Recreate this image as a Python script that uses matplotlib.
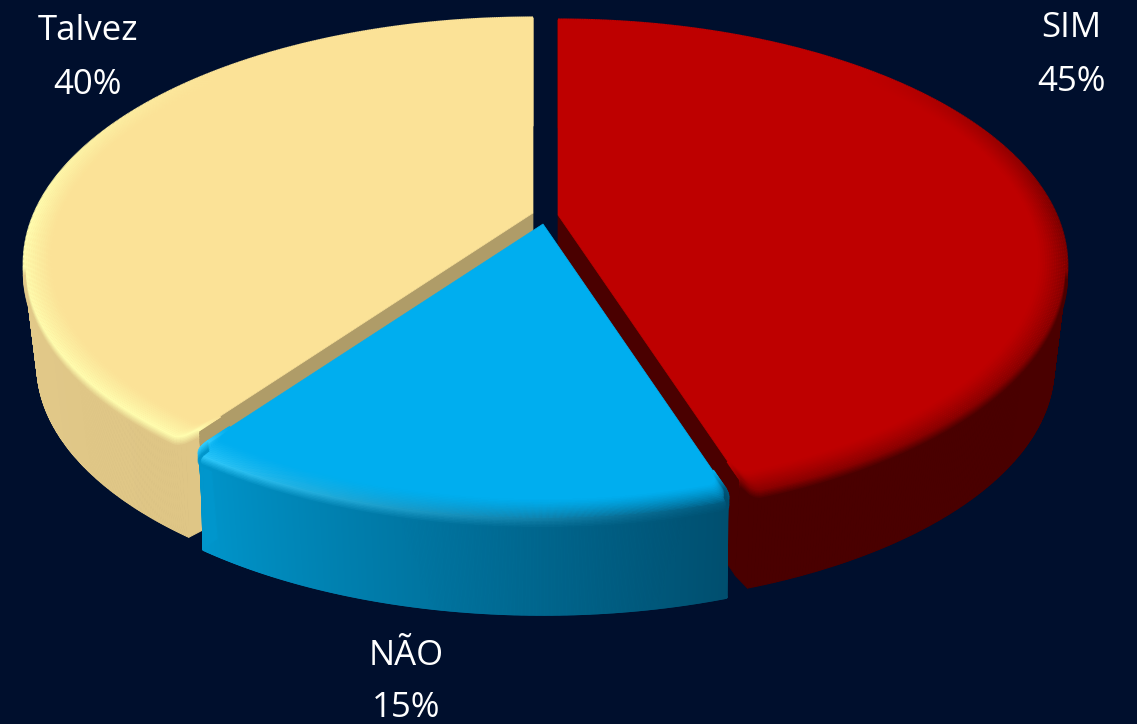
import numpy as np
import matplotlib
matplotlib.use("Agg")
import matplotlib.pyplot as plt
from matplotlib.collections import LineCollection, PolyCollection
from matplotlib.colors import to_rgb
from matplotlib.patches import Polygon

categories = ["SIM", "NÃO", "Talvez"]
values = [45, 15, 40]

top_colors = {"SIM": "#BE0000", "NÃO": "#00AEEF", "Talvez": "#FBE297"}
# wall colour at the start and end of each slice (clockwise)
wall_colors = {
    "SIM": ("#4A0000", "#4A0000"),
    "NÃO": ("#004E6E", "#0096CC"),
    "Talvez": ("#DFC686", "#E8CF90"),
}
rim_colors = {
    "SIM": ("#6A0000", "#8C0000"),
    "NÃO": ("#00587C", "#30CCFF"),
    "Talvez": ("#FFFDAE", "#FFFDAE"),
}
cut_colors = {"SIM": "#4A0000", "Talvez": "#AF9C68"}
apexes = {"SIM": (558, 215), "NÃO": (543, 224), "Talvez": (533, 213)}

RX, RY, PERSP = 498, 235, 0.205
DEPTH, SHRINK = 103, 0.975
BG = "#000F2D"


def project(apex, theta, r=1.0):
    d = r * np.cos(theta)
    s = 1 / (1 + PERSP * d)
    return np.column_stack([apex[0] + RX * r * np.sin(theta) * s, apex[1] - RY * d * s])


def lower(apex, pts):
    out = np.array(apex) + (pts - np.array(apex)) * SHRINK
    out[:, 1] += DEPTH
    return out


def mix(c1, c2, t):
    return tuple((1 - t) * a + t * b for a, b in zip(to_rgb(c1), to_rgb(c2)))


def corner_pull(th, edge, size=0.04, width=0.022):
    # quarter circle rounding, front corners only
    if np.cos(edge) > 0:
        return np.zeros_like(th)
    u = np.clip(1 - np.abs(th - edge) / width, 0, 1)
    return size * (1 - np.sqrt(1 - u ** 2))


def draw_slice(ax, cat, start, end):
    apex = apexes[cat]
    th = np.linspace(start, end, 500)
    round_r = 1 - corner_pull(th, start) - corner_pull(th, end)
    top = project(apex, th, round_r)
    # bottom ring keeps nearly sharp corners
    low_r = 1 - corner_pull(th, start, width=0.005) - corner_pull(th, end, width=0.005)
    low = lower(apex, project(apex, th, low_r))
    frac = (th - th[0]) / (th[-1] - th[0])
    fade = np.clip((0.7 - np.cos(th)) / 0.7, 0, 1)

    # outer wall
    quads = [[top[i], top[i + 1], low[i + 1], low[i]] for i in range(len(th) - 1)]
    cols = [mix(*wall_colors[cat], f) for f in frac[:-1]]
    ax.add_collection(PolyCollection(quads, facecolors=cols, edgecolors=cols, linewidths=0.8))

    # cut face next to the blue slice
    if cat in cut_colors:
        idx = 0 if cat == "Talvez" else -1
        face = [apex, top[idx], low[idx], lower(apex, np.array([apex], dtype=float))[0]]
        ax.add_patch(Polygon(face, closed=True, fc=cut_colors[cat], ec=cut_colors[cat], lw=0.5))

    ax.add_patch(Polygon(np.vstack([[apex], top]), closed=True, fc=top_colors[cat], ec=top_colors[cat], lw=0.5))

    # soft bevel along the outer edge
    for r in np.linspace(0.945, 1.0, 14):
        t = (r - 0.945) / 0.055
        pts = project(apex, th, r * round_r)
        segs = np.stack([pts[:-1], pts[1:]], axis=1)
        cols = [mix(top_colors[cat], mix(*rim_colors[cat], f), a * t ** 1.3) for f, a in zip(frac[:-1], fade[:-1])]
        ax.add_collection(LineCollection(segs, colors=cols, linewidths=2.2, capstyle="butt"))
    front = np.cos(th[:-1]) < -0.22
    for dz in np.linspace(0, 9, 7):
        t = dz / 9
        pts = top + [0, dz]
        segs = np.stack([pts[:-1], pts[1:]], axis=1)[front]
        cols = [mix(mix(*rim_colors[cat], f), mix(*wall_colors[cat], f), t) for f in frac[:-1][front]]
        ax.add_collection(LineCollection(segs, colors=cols, linewidths=2.0, capstyle="butt"))


fig = plt.figure(figsize=(11.37, 7.24), dpi=100, facecolor=BG)
ax = fig.add_axes([0, 0, 1, 1])
ax.set_xlim(0, 1137)
ax.set_ylim(724, 0)
ax.axis("off")

edges = np.cumsum([0] + values) / sum(values) * 2 * np.pi
spans = {c: (edges[i], edges[i + 1]) for i, c in enumerate(categories)}

# back to front, blue sits in front of both neighbours
for cat in ["Talvez", "SIM", "NÃO"]:
    draw_slice(ax, cat, *spans[cat])

label_pos = {"SIM": (1071, 55), "NÃO": (406, 682), "Talvez": (88, 58)}
label_spacing = {"SIM": 1.78, "NÃO": 1.66, "Talvez": 1.78}
for cat, val in zip(categories, values):
    ax.text(*label_pos[cat], f"{cat}\n{val}%", color="white", ha="center", va="center",
            fontsize=25, family="Open Sans", linespacing=label_spacing[cat])

fig.savefig("out.png", dpi=100, facecolor=BG)
